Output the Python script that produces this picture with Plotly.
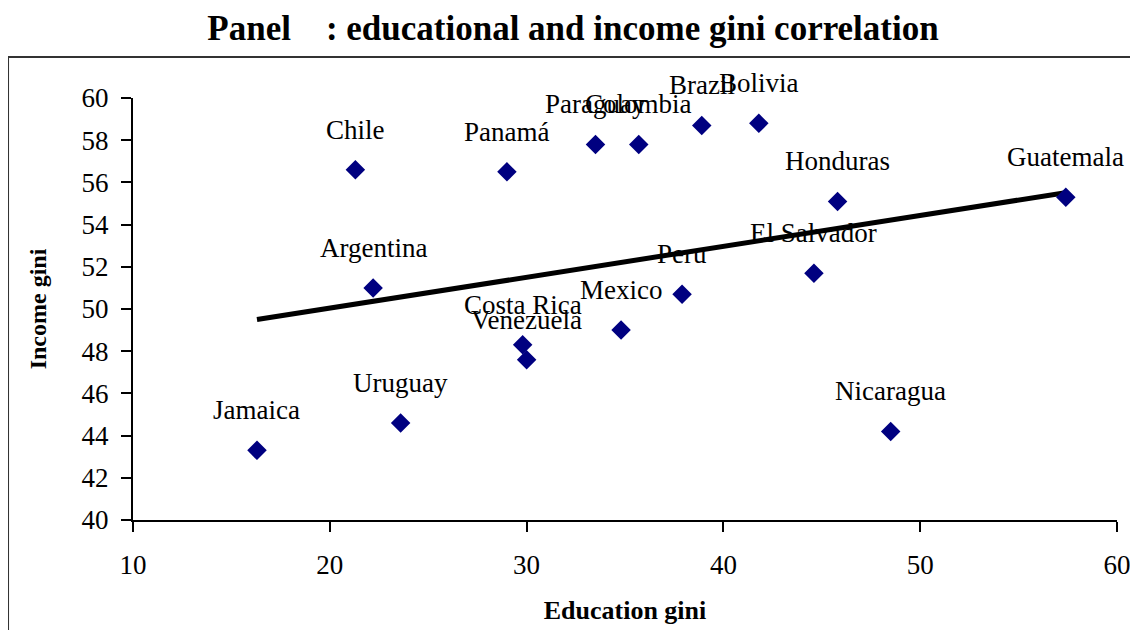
import plotly.graph_objects as go

countries = ["Jamaica", "Chile", "Argentina", "Uruguay", "Panamá", "Costa Rica",
             "Venezuela", "Paraguay", "Colombia", "Mexico", "Brazil", "Bolivia",
             "Peru", "El Salvador", "Honduras", "Nicaragua", "Guatemala"]
edu_gini = [16.3, 21.3, 22.2, 23.6, 29.0, 29.8, 30.0, 33.5, 35.7, 34.8, 38.9, 41.8,
            37.9, 44.6, 45.8, 48.5, 57.4]
inc_gini = [43.3, 56.6, 51.0, 44.6, 56.5, 48.3, 47.6, 57.8, 57.8, 49.0, 58.7, 58.8,
            50.7, 51.7, 55.1, 44.2, 55.3]

# linear trend line end points
trend_x = [16.3, 57.3]
trend_y = [49.5, 55.5]

serif = "Liberation Serif"

fig = go.Figure()
fig.add_trace(go.Scatter(x=trend_x, y=trend_y, mode="lines",
                         line=dict(color="black", width=5), hoverinfo="skip"))
fig.add_trace(go.Scatter(x=edu_gini, y=inc_gini, mode="markers", text=countries,
                         marker=dict(symbol="diamond", size=15, color="#000080")))

for name, xv, yv in zip(countries, edu_gini, inc_gini):
    fig.add_annotation(x=xv, y=yv, text=name, showarrow=False, yshift=40,
                       font=dict(family=serif, size=27, color="black"))

# outer chart frame
fig.add_shape(type="rect", xref="paper", yref="paper",
              x0=-0.127, x1=1.016, y0=-0.3, y1=1.097,
              line=dict(color="#333333", width=2))

fig.update_layout(
    width=1130, height=622,
    margin=dict(l=125, r=21, t=90, b=110),
    paper_bgcolor="white", plot_bgcolor="white",
    showlegend=False,
    font=dict(family=serif, size=27, color="black"),
    title=dict(text="<b>Panel    : educational and income gini correlation</b>",
               x=0.5, xanchor="center", y=0.969, yanchor="middle",
               font=dict(family=serif, size=35, color="black")),
    xaxis=dict(range=[10, 60], tickvals=[10, 20, 30, 40, 50, 60],
               showgrid=False, zeroline=False, showline=True, linecolor="black",
               linewidth=2, ticks="outside", ticklen=10, tickcolor="black",
               tickwidth=2, ticklabelstandoff=10, automargin=False,
               title=dict(text="<b>Education gini</b>", standoff=21,
                          font=dict(family=serif, size=26))),
    yaxis=dict(range=[40, 60], dtick=2, showgrid=False, zeroline=False,
               showline=True, linecolor="black", linewidth=2, ticks="outside",
               ticklen=10, tickcolor="black", tickwidth=2, ticklabelstandoff=7,
               automargin=False,
               title=dict(text="<b>Income gini</b>", standoff=28,
                          font=dict(family=serif, size=24))),
)

fig.write_html("out.html")
